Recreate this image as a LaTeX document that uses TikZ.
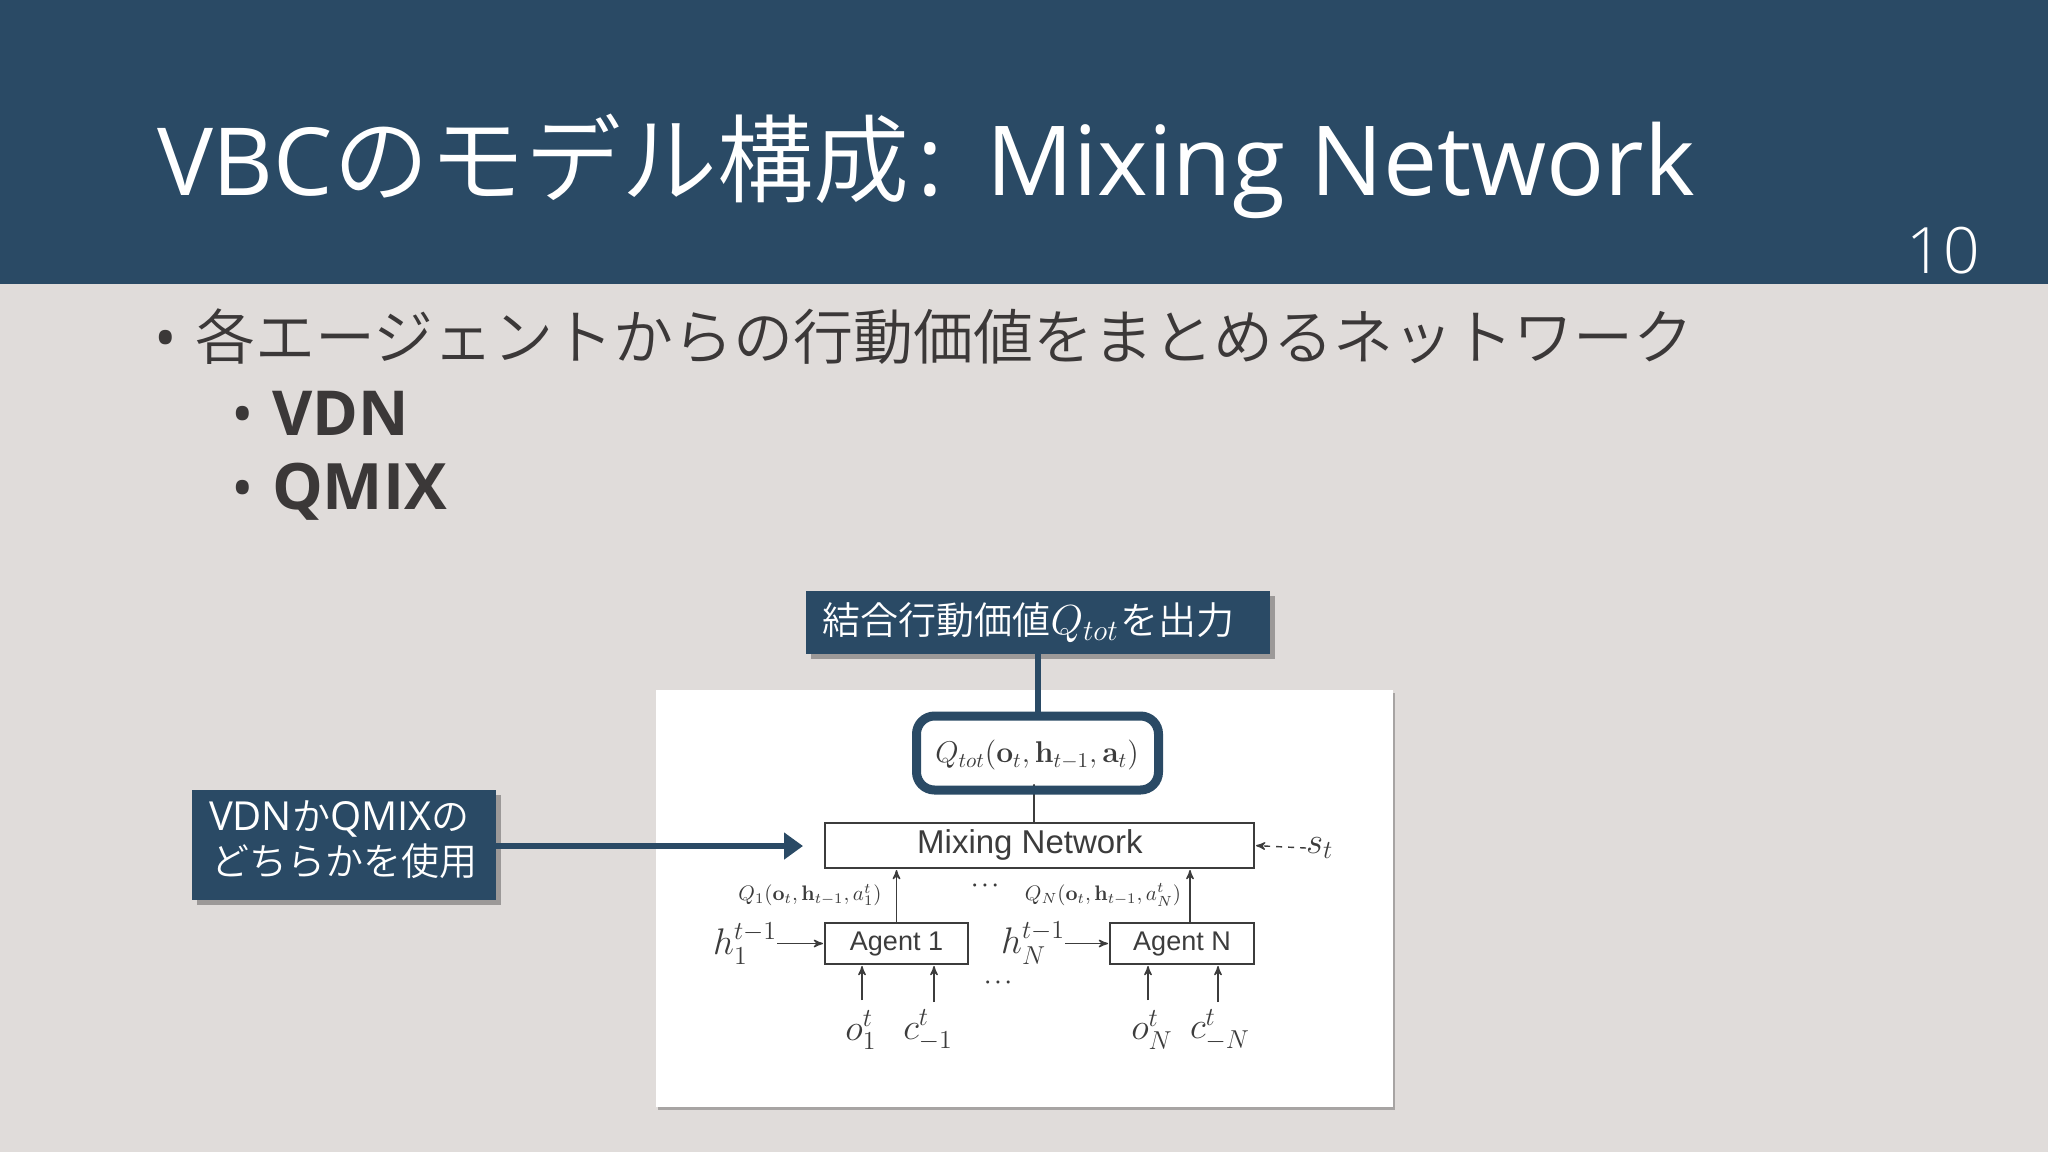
\documentclass[tikz,border=0pt]{standalone}
\usepackage{fix-cm}
\usepackage{amsmath,amssymb}
\usepackage[no-math]{fontspec}
\setmainfont{Open Sans}
\newfontfamily\jp{Noto Sans CJK JP DemiLight}
\newfontfamily\lt{Open Sans Light}
\newfontfamily\arm{Liberation Sans}
\usetikzlibrary{arrows,arrows.meta,shadows}
\definecolor{slatebg}{HTML}{E0DCDA}
\definecolor{navy}{HTML}{2A4A65}
\definecolor{inkdark}{HTML}{3B3838}
\definecolor{scan}{HTML}{3C3C3C}
\begin{document}
\begin{tikzpicture}[>=stealth',x=0.5pt,y=-0.5pt,thick]
  \tikzstyle{every node}=[inner sep=0pt,outer sep=0pt]
  \tikzstyle{lblbox}=[fill=navy,text=white,drop shadow={shadow xshift=2.5pt,shadow yshift=-2.5pt,fill=black,opacity=.3},font=\fontsize{19}{22.5}\selectfont]
  \tikzstyle{scanbox}=[draw=scan,line width=.7pt,text=scan,font=\arm]
  \tikzstyle{thinarrow}=[->,draw=scan,line width=.7pt,shorten >=1pt]
  \tikzstyle{scanlbl}=[text=scan,font=\fontsize{15}{18}\selectfont]
  \tikzstyle{biglbl}=[text=scan,font=\fontsize{18.5}{22}\selectfont]

  \useasboundingbox (0,0) rectangle (2048,1152);
  \fill[slatebg] (0,0) rectangle (2048,1152);
  \fill[navy] (0,0) rectangle (2048,284);

  \node (title) [anchor=base west,text=white,font=\fontsize{47}{50}\selectfont] at (157,195)
    {VBC\jp\fontsize{48}{50}\selectfont のモデル構成\rmfamily\fontsize{48.3}{50}\selectfont\hspace{4pt}: \hspace{5pt}Mixing Network};
  \node (pageno) [anchor=base east,text=white,font=\fontsize{32}{36}\selectfont] at (1980,273) {\lt 10};

  \node (bul1) [anchor=base,text=inkdark,font=\fontsize{30}{32}\selectfont] at (166,359) {•};
  \node (line1) [anchor=base west,text=inkdark,font=\fontsize{30}{32}\selectfont] at (195,359)
    {\jp 各エージェントからの行動価値をまとめるネットワーク};
  \node (bul2) [anchor=base,text=inkdark,font=\fontsize{30}{32}\selectfont] at (243,435) {•};
  \node (vdn) [anchor=base west,text=inkdark,font=\fontsize{31}{34}\selectfont\bfseries] at (272,435) {VDN};
  \node (bul3) [anchor=base,text=inkdark,font=\fontsize{30}{32}\selectfont] at (243,509) {•};
  \node (qmix) [anchor=base west,text=inkdark,font=\fontsize{32}{34}\selectfont\bfseries] at (272,509) {QMIX};

  % pasted figure
  \node (shot) [fill=white,minimum width=368.5pt,minimum height=208.5pt,
    drop shadow={shadow xshift=1pt,shadow yshift=-1.5pt,fill=black,opacity=.25}] at (1024.5,898.5) {};

  \node (mix) [scanbox,minimum width=214.5pt,minimum height=22.5pt] at (1039.5,845.5) {};
  \node (mixtxt) [text=scan,font=\arm\fontsize{16.5}{18}\selectfont] at (1030,845) {Mixing Network};
  \node (ag1) [scanbox,minimum width=71.5pt,minimum height=20.5pt,font=\arm\fontsize{13.5}{16}\selectfont] at (896.5,943.5) {Agent 1};
  \node (agN) [scanbox,minimum width=72pt,minimum height=20.5pt,font=\arm\fontsize{13.5}{16}\selectfont] at (1182,943.5) {Agent N};

  \coordinate (qin) at (1034,782);
  \coordinate (agNup) at (1190,923);
  \coordinate (o1in) at (862,1000);
  \coordinate (c1in) at (934,1002);
  \coordinate (oNin) at (1148,1000);
  \coordinate (cNin) at (1218,1002);

  \draw[thinarrow] (qin |- mix.north) -- (qin);
  \draw[thinarrow] (ag1.north) -- (ag1.north |- mix.south);
  \draw[thinarrow] (agNup) -- (agNup |- mix.south);
  \draw[thinarrow] (o1in) -- (o1in |- ag1.south);
  \draw[thinarrow] (c1in) -- (c1in |- ag1.south);
  \draw[thinarrow] (oNin) -- (oNin |- agN.south);
  \draw[thinarrow] (cNin) -- (cNin |- agN.south);

  \node (qtxt) [scanlbl] at (1037,755) {$Q_{tot}(\mathbf{o}_t,\mathbf{h}_{t-1},\mathbf{a}_t)$};
  \node (q1) [text=scan,font=\fontsize{10.5}{13}\selectfont] at (810,895) {$Q_1(\mathbf{o}_t,\mathbf{h}_{t-1},a_1^t)$};
  \node (qN) [text=scan,font=\fontsize{10.5}{13}\selectfont] at (1103,895) {$Q_N(\mathbf{o}_t,\mathbf{h}_{t-1},a_N^t)$};
  \node (dots1) [text=scan] at (987,886) {$\boldsymbol{\cdots}$};
  \node (dots2) [text=scan] at (1000,983) {$\boldsymbol{\cdots}$};

  \node (h1) [biglbl,anchor=east] at (777,943.5) {$h_1^{t-1}$};
  \node (hN) [biglbl,anchor=east] at (1065,943.5) {$h_N^{t-1}$};
  \draw[thinarrow] (h1.east) -- (ag1.west);
  \draw[thinarrow] (hN.east) -- (agN.west);

  \node (o1) [biglbl] at (861,1030) {$o_1^t$};
  \node (c1) [biglbl] at (928,1030) {$c_{-1}^t$};
  \node (oN) [biglbl] at (1152,1030) {$o_N^t$};
  \node (cN) [biglbl] at (1220,1030) {$c_{-N}^t$};
  \node (st) [biglbl,anchor=west] at (1306,848) {$s_t$};
  \draw[thinarrow,dashed] (st.west) -- (mix.east);

  % callouts
  \node (qbox) [draw=navy,line width=4.5pt,rounded corners=9pt,minimum width=121pt,minimum height=37pt] at (1037.5,753) {};
  \node (outlbl) [lblbox,minimum width=232pt,minimum height=31.5pt,text width=215pt,align=left] at (1037.5,622.5)
    {\jp 結合行動価値{\fontsize{21}{23}\selectfont$Q_{tot}$}\hspace{1pt}を出力};
  \node (uselbl) [lblbox,minimum width=152pt,minimum height=55pt] at (344,845) {};
  \node (usetxt) [anchor=west,text=white,align=left,font=\fontsize{19}{22.5}\selectfont] at (209,840)
    {\fontsize{20}{22.5}\selectfont VDN\jp\fontsize{19}{22.5}\selectfont か\rmfamily\fontsize{20}{22.5}\selectfont QMIX\jp\fontsize{19}{22.5}\selectfont の\\\jp\hspace{1pt}どちらかを使用};

  \draw[navy,line width=3pt] (outlbl.south) -- (qbox.north);
  \coordinate (usetip) at (803,846);
  \draw[navy,line width=3pt,-{Triangle[length=9.5pt,width=13pt]}] (uselbl.east |- usetip) -- (usetip);
\end{tikzpicture}
\end{document}
